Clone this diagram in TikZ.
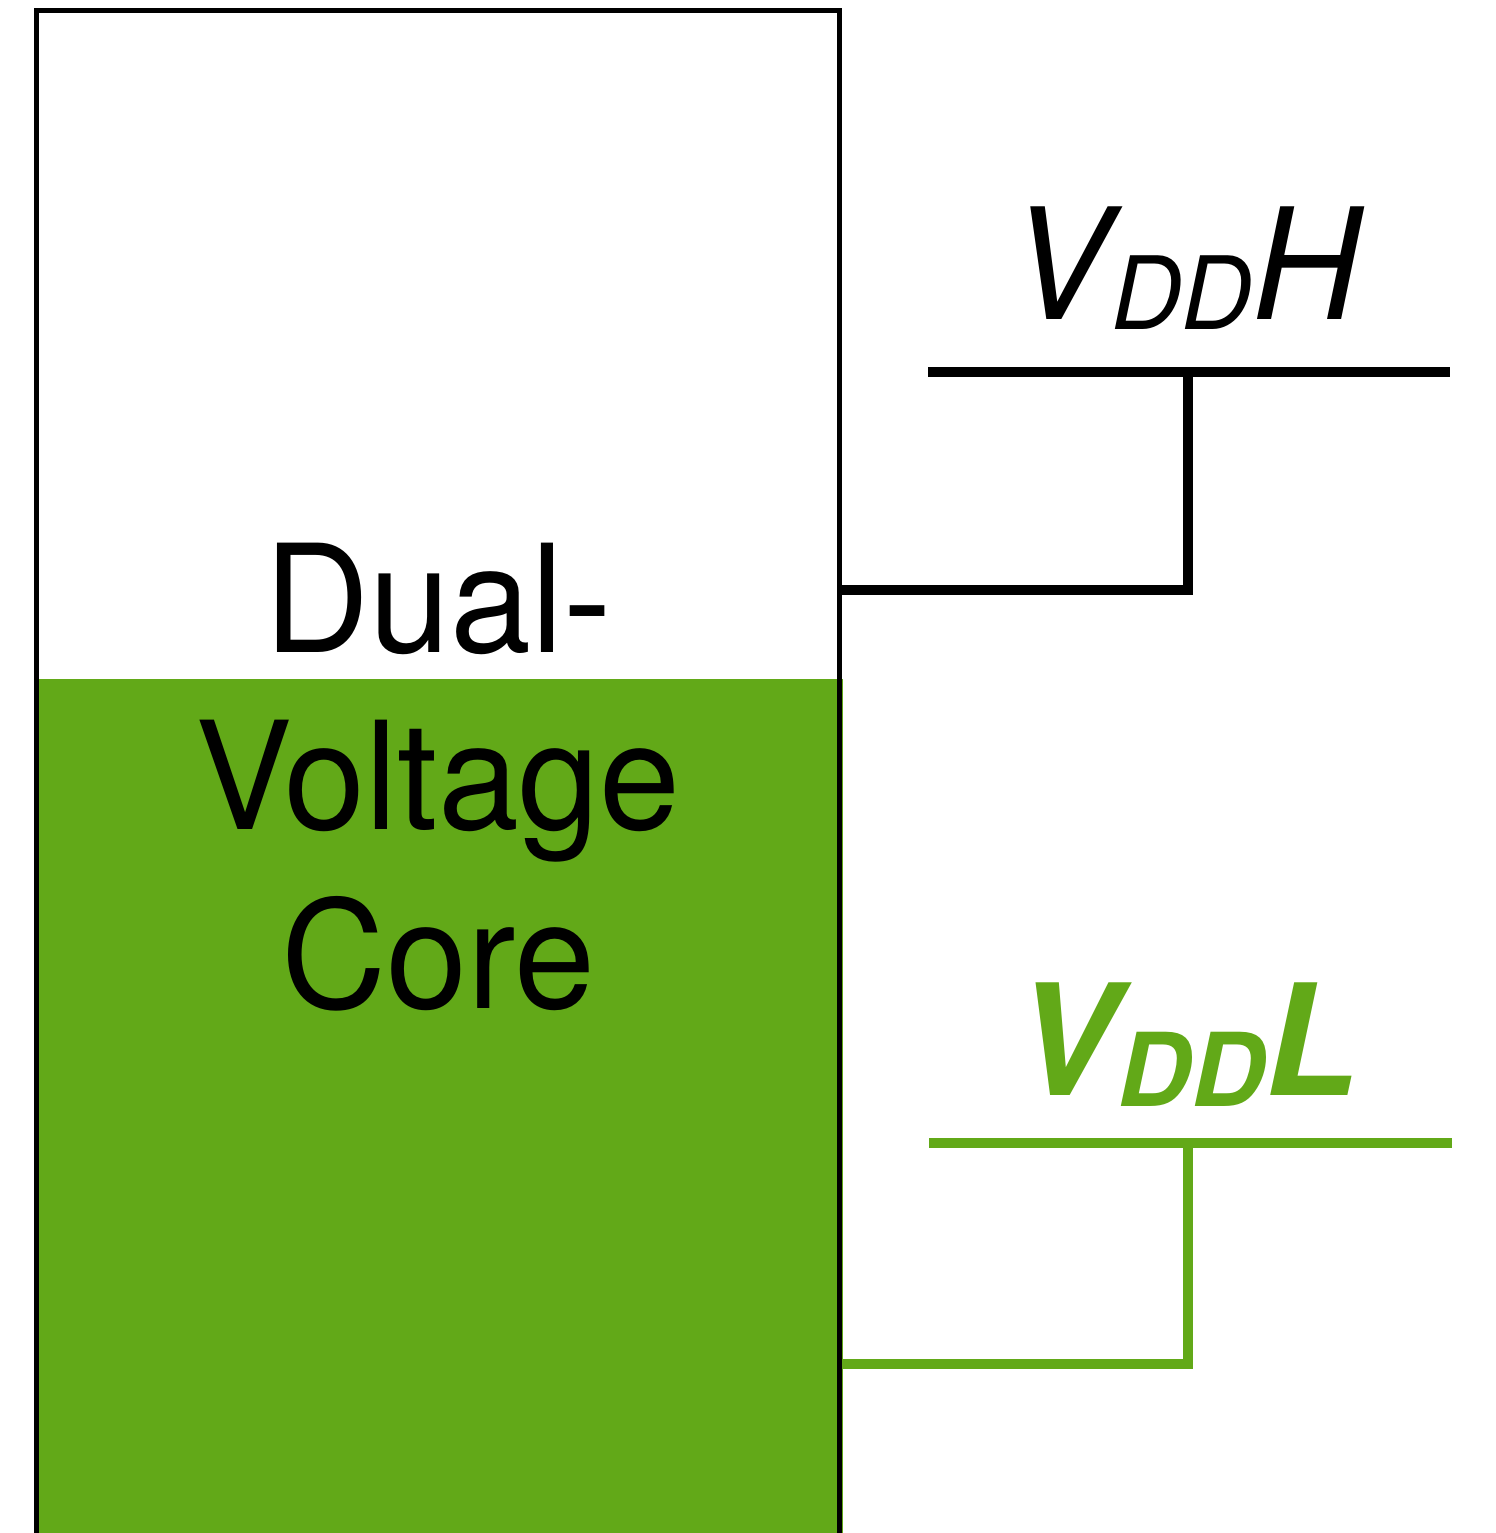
\documentclass[tikz,border=0pt]{standalone}
\usepackage{fontspec}
\setmainfont{TeX Gyre Heros}[FakeStretch=0.97]
\newfontfamily\lowfont{TeX Gyre Heros}
\definecolor{coregreen}{RGB}{98,169,24}

\begin{document}
\begin{tikzpicture}[
    bus/.style={line width=1mm},
    coretext/.style={inner sep=0pt, anchor=base, font=\fontsize{42.7}{50}\selectfont},
    rail/.style={inner sep=0pt, anchor=base, font=\fontsize{44}{50}\selectfont\itshape}
]
    \useasboundingbox (0,0) rectangle (14.96,15.33);
    %riempimento core
    \fill[coregreen] (0.36,0) rectangle (8.43,8.54);
    %bordo core
    \draw[line width=0.5mm] (0.365,0)--(0.365,15.225)--(8.395,15.225)--(8.395,0);
    %testo core
    \node[coretext] (dual) at (4.38,8.80) {Dual-};
    \node[coretext] (voltage) at (4.38,7.03) {Voltage};
    \node[coretext] (core) at (4.38,5.24) {Core};
    %alimentazione alta
    \coordinate (hw) at (9.28,11.61);
    \coordinate (he) at (14.50,11.61);
    \coordinate (htap) at (11.88,11.61);
    \coordinate (hpin) at (8.42,9.43);
    \draw[bus] (hw)--(he);
    \draw[bus] (hpin)-|(htap);
    \node[rail] (vddh) at (11.86,12.13)
        {V\raisebox{-0.1cm}{\fontsize{28.8}{30}\selectfont DD}H};
    %alimentazione bassa
    \coordinate (lw) at (9.29,3.895);
    \coordinate (le) at (14.52,3.895);
    \coordinate (ltap) at (11.88,3.895);
    \coordinate (lpin) at (8.42,1.685);
    \draw[bus, coregreen] (lw)--(le);
    \draw[bus, coregreen] (lpin)-|(ltap);
    \node[rail, coregreen, font=\fontsize{44}{50}\selectfont\lowfont\bfseries\itshape] (vddl) at (11.87,4.37)
        {V\raisebox{-0.11cm}{\fontsize{29}{30}\selectfont DD}L};
\end{tikzpicture}
\end{document}
